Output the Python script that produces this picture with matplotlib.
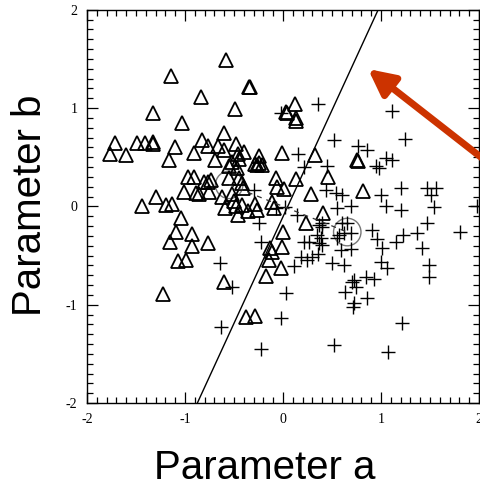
import numpy as np
import matplotlib
matplotlib.use("Agg")
import matplotlib.pyplot as plt
from matplotlib.patches import Circle

plt.rcParams["axes.unicode_minus"] = False

# === 1. Data ===
# class A (triangles)
tri_x = [-0.585, -1.14, -0.35, -0.34, -0.84, -0.49, -1.33, -1.03, -0.605, -1.71,
         -1.77, -1.60, -1.49, -1.41, -1.33, -1.33, -1.105, -1.16, -0.91, -0.83,
         -0.77, -0.66, -0.60, -0.69, -0.48, -0.46, -0.40, -0.55, -0.47, -0.52,
         -0.45, -0.25, -0.285, -0.27, -0.21, -0.245, -0.97, -0.91, -0.81, -0.77,
         -0.74, -0.55, -0.45, -0.42, -1.01, -0.885, -0.86, -0.755, -0.41, -0.52,
         -1.30, -1.44, -1.19, -1.13, -1.045, -0.62, -0.59, -0.50, -0.48, -0.46,
         -0.415, -0.355, -0.29, -0.27, 0.12, 0.03, 0.045, 0.13, 0.135, -0.015,
         0.33, 0.75, 0.76, 0.46, 0.815, 0.29, 0.41, 0.23, -0.075, 0.13,
         -0.06, 0.01, -0.11, -0.09, -0.005, -0.135, -0.115, -0.015, -0.14, -0.025,
         -0.17, -0.38, -0.285, -0.60, -1.23, -1.07, -0.99, -0.77, -0.925, -0.93,
         -1.15, -1.09]
tri_y = [1.49, 1.33, 1.22, 1.21, 1.11, 0.99, 0.955, 0.85, 0.745, 0.645,
         0.535, 0.52, 0.65, 0.65, 0.66, 0.64, 0.60, 0.47, 0.54, 0.68,
         0.61, 0.62, 0.57, 0.47, 0.64, 0.53, 0.55, 0.415, 0.39, 0.45,
         0.48, 0.515, 0.43, 0.42, 0.42, 0.445, 0.30, 0.30, 0.25, 0.25,
         0.27, 0.29, 0.29, 0.235, 0.15, 0.14, 0.13, 0.145, 0.19, 0.13,
         0.10, 0.00, 0.015, 0.025, -0.12, 0.10, -0.02, 0.06, 0.0, -0.085,
         0.015, -0.05, 0.03, -0.04, 1.04, 0.965, 0.95, 0.90, 0.87, 0.54,
         0.52, 0.47, 0.46, 0.30, 0.16, 0.13, -0.07, -0.17, 0.29, 0.28,
         0.20, 0.175, 0.05, -0.02, -0.255, -0.425, -0.46, -0.41, -0.54, -0.63,
         -0.71, -1.12, -1.11, -0.765, -0.89, -0.555, -0.545, -0.375, -0.40, -0.28,
         -0.36, -0.255]

# class B (pluses)
plus_x = [-0.02, 0.36, 1.115, 0.52, 1.245, 0.76, 0.86, 0.945, 0.98, 1.05,
          1.115, 0.155, 0.21, 0.45, 1.20, 1.47, 1.56, 1.51, 1.0, 0.435,
          0.54, 0.605, 1.05, 1.54, 0.555, 0.69, 1.20, 1.98, -0.30, -0.245,
          -0.07, 0.02, 0.145, -0.23, 0.37, 0.40, 0.215, 0.265, 0.35, 0.37,
          0.18, 0.24, 0.30, 0.36, 0.11, 0.57, 0.55, 0.62, 0.69, 0.655,
          0.60, 0.40, 0.385, 0.40, 0.69, 0.59, 0.50, 0.62, 0.91, 0.96,
          1.01, 1.0, 1.065, 1.15, 1.22, 1.37, 1.415, 1.47, 1.49, 1.49,
          1.81, 0.725, 0.74, 0.845, 0.93, 0.70, 0.63, 0.725, 0.71, 0.86,
          0.03, -0.025, 0.515, 1.21, 1.07, -0.23, -0.64, -0.52, -0.63]
plus_y = [0.955, 1.04, 0.97, 0.68, 0.685, 0.61, 0.575, 0.41, 0.39, 0.49,
          0.47, 0.535, 0.40, 0.41, 0.185, 0.185, 0.185, 0.12, 0.12, 0.17,
          0.135, 0.12, 0.005, -0.01, -0.02, 0.0, -0.04, 0.0, 0.17, -0.165,
          -0.02, -0.01, -0.085, -0.36, -0.19, -0.205, -0.36, -0.36, -0.29, -0.375,
          -0.51, -0.54, -0.51, -0.48, -0.61, -0.29, -0.32, -0.27, -0.27, -0.17,
          -0.17, -0.17, -0.32, -0.39, -0.43, -0.44, -0.58, -0.595, -0.24, -0.335,
          -0.425, -0.56, -0.63, -0.36, -0.29, -0.265, -0.425, -0.17, -0.595, -0.715,
          -0.255, -0.75, -0.815, -0.715, -0.74, -0.77, -0.87, -0.985, -1.02, -0.935,
          -0.88, -1.13, -1.41, -1.19, -1.48, -1.445, -0.58, -0.82, -1.23]

# separating line end points
line_x = [-0.875, 0.97]
line_y = [-2.0, 2.0]

# the two class means (grey circles) joined by a dashed path
mean_x = [-0.55, 0.655]
mean_y = [0.22, -0.26]
mean_r = 0.14

# === 2. Figure ===
fig = plt.figure(figsize=(4.81, 4.91), dpi=100)
ax = fig.add_axes([0.181, 0.179, 0.815, 0.801])

ax.plot(tri_x, tri_y, linestyle="none", marker="^", markersize=9.5,
        markerfacecolor="none", markeredgecolor="black", markeredgewidth=1.3)
ax.plot(plus_x, plus_y, linestyle="none", marker="+", markersize=10,
        color="black", markeredgewidth=1.0)
ax.plot(line_x, line_y, color="black", lw=1.0)

ax.plot(mean_x, mean_y, color="#333333", lw=0.9, linestyle=(0, (4, 4)))
for cx, cy in zip(mean_x, mean_y):
    ax.add_patch(Circle((cx, cy), mean_r, fill=False, edgecolor="#777777", lw=1.0))

ax.set_xlim(-2, 2)
ax.set_ylim(-2, 2)
ax.set_xticks([-2, -1, 0, 1, 2])
ax.set_yticks([-2, -1, 0, 1, 2])
ax.set_xticks(np.arange(-2, 2.01, 0.1), minor=True)
ax.set_yticks(np.arange(-2, 2.01, 0.1), minor=True)
ax.tick_params(which="both", direction="in", top=True, right=True, width=0.9,
               labelsize=10, pad=7)
ax.tick_params(which="major", length=8)
ax.tick_params(which="minor", length=4)
for lab in ax.get_xticklabels() + ax.get_yticklabels():
    lab.set_family("Liberation Serif")
for sp in ax.spines.values():
    sp.set_linewidth(1.0)

# === 3. Big slide labels and red arrow ===
fig.text(265 / 481, 1 - 468 / 491, "Parameter a", fontsize=29,
         family="Liberation Sans", ha="center", va="center")
fig.text(30 / 481, 1 - 205 / 491, "Parameter b", fontsize=29,
         family="Liberation Sans", ha="center", va="center", rotation=90)

ax.annotate("", xy=(368, 491 - 69), xycoords="figure pixels",
            xytext=(505, 491 - 176), textcoords="figure pixels",
            arrowprops=dict(arrowstyle="-|>,head_length=1.3,head_width=0.65",
                            color="#cc3300", lw=5, mutation_scale=12,
                            shrinkA=0, shrinkB=0),
            annotation_clip=False)

plt.savefig("out.png", dpi=100)
